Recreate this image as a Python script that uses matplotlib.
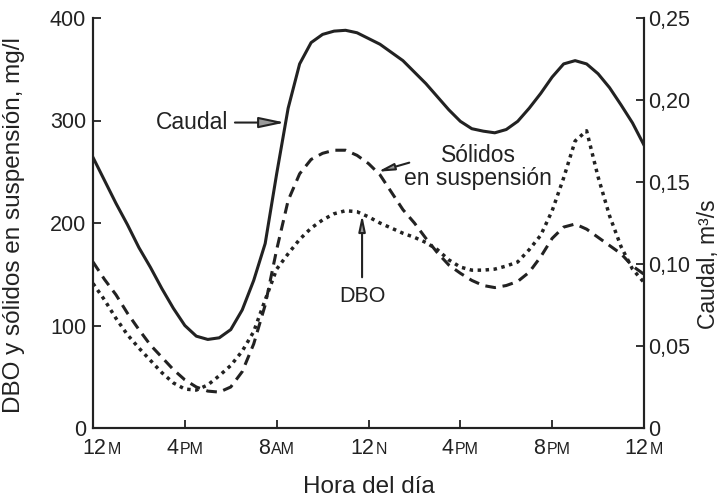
import matplotlib
matplotlib.use("Agg")
import matplotlib.pyplot as plt
import numpy as np
from matplotlib.offsetbox import TextArea, HPacker, AnnotationBbox

plt.rcParams['font.family'] = ['Liberation Sans', 'DejaVu Sans']

# hours of the day, every half hour
hours = np.arange(0, 24.5, 0.5)

# Caudal, m3/s (right axis)
caudal = [0.165, 0.151, 0.137, 0.124, 0.110, 0.098, 0.085, 0.073, 0.0625, 0.056,
          0.054, 0.055, 0.060, 0.072, 0.090, 0.1125, 0.155, 0.195, 0.222, 0.235,
          0.240, 0.242, 0.2425, 0.241, 0.2375, 0.234, 0.229, 0.224, 0.217, 0.210,
          0.202, 0.194, 0.187, 0.1825, 0.181, 0.180, 0.182, 0.187, 0.195, 0.204,
          0.214, 0.222, 0.224, 0.222, 0.216, 0.2075, 0.197, 0.186, 0.1725]

# Solidos en suspension, mg/l
solidos = [162, 145, 130, 112, 96, 81, 69, 57, 47, 40,
           36, 35, 40, 55, 82, 120, 174, 222, 248, 262,
           268, 271, 271, 266, 258, 247, 230, 213, 200, 185,
           171, 159, 151, 144, 139, 137, 139, 143, 152, 167,
           185, 196, 199, 194, 186, 178, 170, 158, 150]

# DBO, mg/l
dbo = [141, 125, 107, 91, 78, 66, 54, 44, 38, 37,
       42, 51, 61, 75, 94, 125, 155, 170, 184, 195,
       203, 209, 212, 211, 206, 200, 195, 190, 186, 181,
       174, 164, 157, 154, 154, 155, 158, 162, 174, 188,
       212, 244, 280, 290, 245, 207, 177, 155, 142]

xticks = [0, 4, 8, 12, 16, 20, 24]
xnums = ['12', '4', '8', '12', '4', '8', '12']
xsuf = ['M', 'PM', 'AM', 'N', 'PM', 'PM', 'M']

ink = '#222222'
fs_tick = 15.5
fs_note = 16.5
fs_lab = 17.5

fig = plt.figure(figsize=(7.26, 5.01), dpi=100)
ax = fig.add_axes([93/726, 73/501, 551/726, 410/501])
ax2 = ax.twinx()

ax.plot(hours, solidos, color=ink, lw=2.2, dashes=(3.5, 2.2))
ax.plot(hours, dbo, color=ink, lw=2.5, dashes=(1.0, 1.3))
ax2.plot(hours, caudal, color=ink, lw=2.2)

ax.set_xlim(0, 24)
ax.set_ylim(0, 400)
ax2.set_ylim(0, 0.25)

for a in (ax, ax2):
    a.spines['top'].set_visible(False)
    for s in ('left', 'right', 'bottom'):
        a.spines[s].set_linewidth(1.5)
        a.spines[s].set_color(ink)
    a.tick_params(direction='in', length=6, width=1.3, color=ink,
                  labelsize=fs_tick, labelcolor=ink)

ax.set_yticks([0, 100, 200, 300, 400])
ax.tick_params(axis='y', pad=5)
ax2.set_yticks([0, 0.05, 0.10, 0.15, 0.20, 0.25])
ax2.set_yticklabels(['0', '0,05', '0,10', '0,15', '0,20', '0,25'])
ax2.tick_params(axis='y', pad=3)

ax.set_xticks(xticks)
ax.set_xticklabels([])
for i, (x, n, s) in enumerate(zip(xticks, xnums, xsuf)):
    box = HPacker(children=[TextArea(n, textprops=dict(size=fs_tick, color=ink)),
                            TextArea(s, textprops=dict(size=11.5, color=ink))],
                  align='baseline', pad=0, sep=1)
    dx = 6 if i == 0 else 0
    ab = AnnotationBbox(box, (x, 0), xycoords=('data', 'axes fraction'),
                        xybox=(dx, -7), boxcoords='offset points',
                        box_alignment=(0.5, 1), frameon=False)
    ax.add_artist(ab)

ax.set_ylabel('DBO y sólidos en suspensión, mg/l', fontsize=fs_lab, color=ink)
ax.yaxis.set_label_coords(-0.123, 0.495)
ax2.set_ylabel('Caudal, m³/s', fontsize=16.5, color=ink)
ax2.yaxis.set_label_coords(1.097, 0.4)
ax.set_xlabel('Hora del día', fontsize=fs_lab, color=ink)
ax.xaxis.set_label_coords(0.5, -0.118)

arrow = dict(arrowstyle='-|>,head_length=0.95,head_width=0.2', fc='#9a9a9a',
             ec=ink, lw=1.5, shrinkA=3, shrinkB=0)
ax.annotate('Caudal', xy=(8.36, 298), xytext=(5.88, 298), fontsize=fs_note, color=ink,
            ha='right', va='center', arrowprops=arrow)
ax.text(16.77, 255, 'Sólidos\nen suspensión', fontsize=fs_note, color=ink,
        ha='center', va='center', linespacing=1.0)
ax.annotate('', xy=(12.4, 250), xytext=(13.95, 260), arrowprops=arrow)
ax.text(11.72, 128, 'DBO', fontsize=fs_tick, color=ink, ha='center', va='center')
ax.annotate('', xy=(11.72, 208), xytext=(11.72, 143), arrowprops=arrow)

fig.savefig('out.png', dpi=100)
